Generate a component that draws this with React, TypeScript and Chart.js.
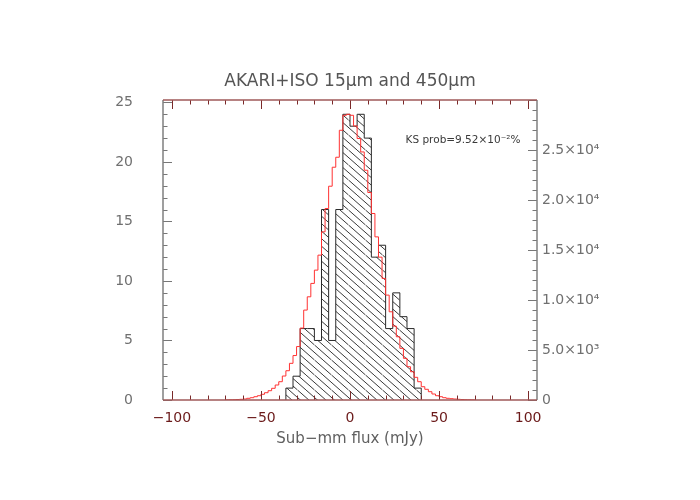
import React, { useEffect, useRef } from 'react';
import { Chart, registerables } from 'chart.js';

Chart.register(...registerables);

// ---------------- data ----------------
const titleText = 'AKARI+ISO 15μm and 450μm';
const xTitleText = 'Sub−mm flux (mJy)';
const ksText = 'KS prob=9.52×10⁻²%';

// observed sources (hatched histogram, left axis)
const blackBinLeft = [-36, -32, -28, -24, -20, -16, -12, -8, -4, 0, 4, 8, 12, 16, 20, 24, 28, 32, 36];
const blackBinWidth = 4;
const blackCounts = [1, 2, 6, 6, 5, 16, 5, 16, 24, 23, 24, 22, 12, 13, 6, 9, 7, 6, 1];

// random positions (red histogram, right axis)
const redBinLeft = [
  -70, -68, -66, -64, -62, -60, -58, -56, -54, -52, -50, -48, -46, -44, -42, -40, -38, -36, -34, -32,
  -30, -28, -26, -24, -22, -20, -18, -16, -14, -12, -10, -8, -6, -4, -2,
  0, 2, 4, 6, 8, 10, 12, 14, 16, 18, 20, 22, 24, 26, 28, 30, 32, 34, 36, 38,
  40, 42, 44, 46, 48, 50, 52, 54, 56, 58, 60, 62, 64, 66, 68,
];
const redBinWidth = 2;
const redCounts = [
  10, 20, 30, 50, 70, 100, 170, 230, 330, 430, 570, 730, 930, 1170, 1500, 1830, 2400, 2930, 3670, 4450,
  5350, 7200, 9000, 10330, 11670, 13000, 14500, 16830, 19170, 21400, 23300, 24300, 27000, 28500, 28600,
  28500, 27430, 26170, 24830, 23000, 20770, 18670, 16330, 14300, 12170, 10500, 8830, 7400, 6330, 5170,
  4170, 3330, 2830, 2270, 1830, 1330, 1070, 830, 600, 430, 330, 230, 170, 130, 100, 70, 50, 30, 20, 10,
];

const xMin = -105;
const xMax = 105;
const leftMax = 25.2;
const rightMax = 30030;

const xTickValues = [-100, -50, 0, 50, 100];
const leftTickValues = [0, 5, 10, 15, 20, 25];
const rightTickValues = [0, 5000, 10000, 15000, 20000, 25000];
const rightTickLabels = ['0', '5.0×10³', '1.0×10⁴', '1.5×10⁴', '2.0×10⁴', '2.5×10⁴'];

// ---------------- helpers ----------------
const FONT = '"DejaVu Sans", "Liberation Sans", sans-serif';

function stepPoints(left: number[], width: number, counts: number[]) {
  const pts: { x: number; y: number }[] = [{ x: left[0], y: 0 }];
  left.forEach((l, i) => pts.push({ x: l, y: counts[i] }));
  pts.push({ x: left[left.length - 1] + width, y: 0 });
  return pts;
}

function makeHatch(): CanvasPattern | string {
  const W = 17;
  const H = 15;
  const c = document.createElement('canvas');
  c.width = W;
  c.height = H;
  const g = c.getContext('2d');
  if (!g) return 'rgba(0,0,0,0)';
  g.strokeStyle = '#3a3a3a';
  g.lineWidth = 1;
  for (const k of [-W, -W / 2, 0, W / 2, W]) {
    g.beginPath();
    g.moveTo(k, 0);
    g.lineTo(k + W, H);
    g.stroke();
  }
  const p = g.createPattern(c, 'repeat');
  return p || 'rgba(0,0,0,0)';
}

const framePlugin = {
  id: 'idlFrame',
  afterDatasetsDraw(chart: any) {
    const { ctx, chartArea: a, scales } = chart;
    const sx = scales.x;
    const sy = scales.y;
    const sy2 = scales.y2;
    ctx.save();
    ctx.lineWidth = 1;
    // x ticks, bottom and top, pointing inward
    ctx.strokeStyle = '#7a2a2a';
    for (let v = -100; v <= 100; v += 10) {
      const px = Math.round(sx.getPixelForValue(v)) + 0.5;
      const len = v % 50 === 0 ? 9 : 4.5;
      ctx.beginPath();
      ctx.moveTo(px, a.bottom);
      ctx.lineTo(px, a.bottom - len);
      ctx.moveTo(px, a.top);
      ctx.lineTo(px, a.top + len);
      ctx.stroke();
    }
    // left axis ticks
    ctx.strokeStyle = '#777';
    for (let v = 0; v <= 25; v += 1) {
      const py = Math.round(sy.getPixelForValue(v)) + 0.5;
      const len = v % 5 === 0 ? 9 : 4.5;
      ctx.beginPath();
      ctx.moveTo(a.left, py);
      ctx.lineTo(a.left + len, py);
      ctx.stroke();
    }
    // right axis ticks
    for (let v = 0; v <= 30000; v += 1000) {
      const py = Math.round(sy2.getPixelForValue(v)) + 0.5;
      const len = v % 5000 === 0 ? 9 : 4.5;
      ctx.beginPath();
      ctx.moveTo(a.right, py);
      ctx.lineTo(a.right - len, py);
      ctx.stroke();
    }
    // frame
    ctx.lineWidth = 1.5;
    ctx.strokeStyle = '#808080';
    ctx.beginPath();
    ctx.moveTo(a.left, a.top);
    ctx.lineTo(a.left, a.bottom);
    ctx.moveTo(a.right, a.top);
    ctx.lineTo(a.right, a.bottom);
    ctx.stroke();
    ctx.strokeStyle = '#a05a5a';
    ctx.beginPath();
    ctx.moveTo(a.left, a.top);
    ctx.lineTo(a.right, a.top);
    ctx.moveTo(a.left, a.bottom);
    ctx.lineTo(a.right, a.bottom);
    ctx.stroke();
    // KS annotation
    ctx.fillStyle = '#3a3a3a';
    ctx.font = `10.5px ${FONT}`;
    ctx.textBaseline = 'middle';
    ctx.textAlign = 'left';
    ctx.fillText(ksText, sx.getPixelForValue(31.2), sy.getPixelForValue(21.8));
    ctx.restore();
  },
};

export default function App() {
  const ref = useRef<HTMLCanvasElement | null>(null);

  useEffect(() => {
    document.body.style.margin = '0';
    const canvas = ref.current;
    if (!canvas) return;
    const hatch = makeHatch();
    const chart = new Chart(canvas, {
      type: 'line',
      data: {
        datasets: [
          {
            label: 'random',
            data: stepPoints(redBinLeft, redBinWidth, redCounts),
            yAxisID: 'y2',
            stepped: true,
            borderColor: 'rgb(255,50,50)',
            borderWidth: 1,
            pointRadius: 0,
            fill: false,
            order: 0,
          },
          {
            label: 'sources',
            data: stepPoints(blackBinLeft, blackBinWidth, blackCounts),
            yAxisID: 'y',
            stepped: true,
            borderColor: '#2a2a2a',
            borderWidth: 1,
            pointRadius: 0,
            fill: 'origin',
            backgroundColor: hatch as any,
            order: 1,
          },
        ],
      },
      options: {
        responsive: false,
        animation: false,
        devicePixelRatio: 1,
        layout: { padding: 0 },
        events: [],
        plugins: {
          legend: { display: false },
          tooltip: { enabled: false },
          title: {
            display: true,
            text: titleText,
            color: '#555555',
            font: { family: FONT, size: 17, weight: 'normal' },
            padding: { top: 71, bottom: 8.6 },
          },
        },
        scales: {
          x: {
            type: 'linear',
            min: xMin,
            max: xMax,
            grid: { display: false, drawTicks: false },
            border: { display: false },
            afterBuildTicks: (s: any) => {
              s.ticks = xTickValues.map((v) => ({ value: v }));
            },
            afterFit: (s: any) => {
              s.height = 100;
            },
            ticks: {
              color: '#6b1a1a',
              font: { family: FONT, size: 14 },
              padding: 10,
              maxRotation: 0,
              autoSkip: false,
              callback: (v: any) => (Number(v) < 0 ? '−' + Math.abs(Number(v)) : String(v)),
            },
            title: {
              display: true,
              text: xTitleText,
              color: '#606060',
              font: { family: FONT, size: 15 },
              padding: { top: 0, bottom: 52 },
            },
          },
          y: {
            type: 'linear',
            position: 'left',
            min: 0,
            max: leftMax,
            grid: { display: false, drawTicks: false },
            border: { display: false },
            afterBuildTicks: (s: any) => {
              s.ticks = leftTickValues.map((v) => ({ value: v }));
            },
            afterFit: (s: any) => {
              s.width = 163;
            },
            ticks: {
              color: '#707070',
              font: { family: FONT, size: 14 },
              padding: 30,
              callback: (v: any) => String(v),
            },
          },
          y2: {
            type: 'linear',
            position: 'right',
            min: 0,
            max: rightMax,
            grid: { display: false, drawTicks: false },
            border: { display: false },
            afterBuildTicks: (s: any) => {
              s.ticks = rightTickValues.map((v) => ({ value: v }));
            },
            afterFit: (s: any) => {
              s.width = 163;
            },
            ticks: {
              color: '#707070',
              font: { family: FONT, size: 14 },
              padding: 5,
              callback: (_v: any, i: number) => rightTickLabels[i],
            },
          },
        },
      },
      plugins: [framePlugin],
    } as any);
    return () => chart.destroy();
  }, []);

  return (
    <div style={{ width: 700, height: 500, background: '#fff' }}>
      <canvas ref={ref} width={700} height={500} style={{ display: 'block' }} />
    </div>
  );
}
